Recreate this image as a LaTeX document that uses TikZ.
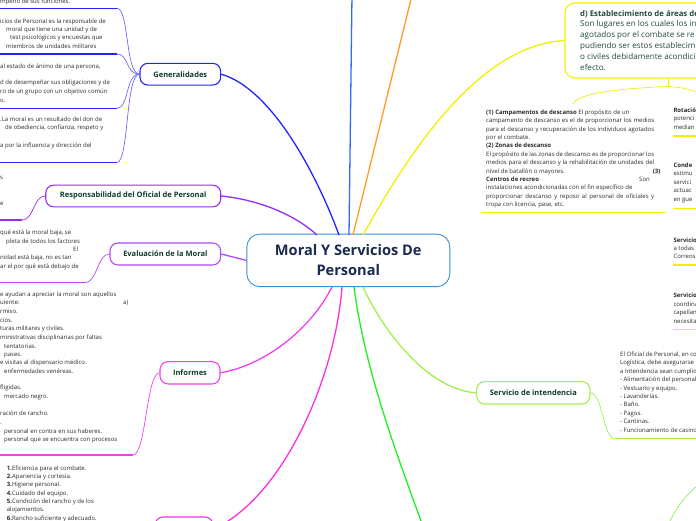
\documentclass[tikz,border=0pt]{standalone}
\usepackage{fontspec}
\setmainfont{Open Sans}
\definecolor{txc}{HTML}{2A2A2A}
\definecolor{lblc}{HTML}{0E3B2A}
\definecolor{dtc}{HTML}{214A37}
\definecolor{navy}{HTML}{1A2A50}
\definecolor{cen}{HTML}{3A8FD0}
\definecolor{cgen}{HTML}{2323FF}
\definecolor{cgenl}{HTML}{6A6AFF}
\definecolor{cresp}{HTML}{9A2CF0}
\definecolor{ceval}{HTML}{B347F8}
\definecolor{cinf}{HTML}{F040F0}
\definecolor{cbot}{HTML}{FF2EDF}
\definecolor{cint}{HTML}{A2F050}
\definecolor{cgreen}{HTML}{22EE22}
\definecolor{cyel}{HTML}{F2F000}
\definecolor{corange}{HTML}{FF9A22}
\definecolor{clblue}{HTML}{2F6BFF}
\definecolor{clg}{HTML}{88F060}
\newcounter{tn}
\newcommand\mytx[3]{\stepcounter{tn}\node[tx] (tx\arabic{tn}) at (#1,#2) {#3};}
\newcommand\myjx[3]{\stepcounter{tn}\node[tx] (tx\arabic{tn}) at (#1,#2) {\makebox[168pt][s]{#3}};}
\newcommand\mydtx[3]{\stepcounter{tn}\node[dtx] (tx\arabic{tn}) at (#1,#2) {#3};}
\tikzset{
  tx/.style={font=\fontsize{6}{6.5}\selectfont, text=txc, anchor=west, inner sep=0pt, text height=4.3pt, text depth=1.2pt},
  dtx/.style={font=\fontsize{8.1}{9}\selectfont, text=dtc, anchor=west, inner sep=0pt, text height=5.9pt, text depth=1.7pt},
  topic/.style={draw, fill=white, line width=1.1pt, rounded corners=8pt, font=\bfseries\fontsize{7.5}{9}\selectfont, text=lblc, inner sep=0pt},
  mainline/.style={line width=1.3pt},
  ul/.style={line width=1.5pt},
  sub/.style={line width=0.7pt},
}
\begin{document}
\begin{tikzpicture}[x=1pt,y=-1pt]
\useasboundingbox (0,0) rectangle (696,520);
\clip (0,0) rectangle (696,520);

% ---------- nodes ----------
\node[draw=cen, fill=white, line width=0.9pt, rounded corners=13pt, minimum width=203pt, minimum height=52.5pt, align=center, text=navy, font=\bfseries\fontsize{14.6}{20}\selectfont, inner sep=0pt] (c) at (348.3,260.4) {Moral Y Servicios De\\Personal};
\node[topic, draw=cgen, minimum width=80.7pt, minimum height=21.7pt] (gen) at (180.3,74.2) {Generalidades};
\node[topic, draw=cresp, minimum width=175pt, minimum height=21.7pt] (resp) at (133.2,196) {Responsabilidad del Oficial de Personal};
\node[topic, draw=ceval, minimum width=110.7pt, minimum height=22pt] (eval) at (165.3,254) {Evaluación de la Moral};
\node[topic, draw=cinf, minimum width=60pt, minimum height=22.3pt] (inf) at (190,372.8) {Informes};
\node[topic, draw=cint, minimum width=113.3pt, minimum height=22.3pt] (int) at (533.3,392.8) {Servicio de intendencia};
\node[topic, draw=cbot, minimum width=58pt, minimum height=24pt] (bot) at (184,529) {};
\node[draw=cyel, line width=1.1pt, rounded corners=10pt, minimum width=206pt, minimum height=75pt, inner sep=0pt] (dbox) at (668,40.5) {};

% ---------- main branches ----------
\coordinate (cgT) at (339,235); \coordinate (crT) at (317,235);
\coordinate (cbT) at (349,235); \coordinate (coT) at (353,235); \coordinate (cyT) at (363,235);
\coordinate (cmB) at (332,287); \coordinate (cpB) at (342,287); \coordinate (cgB) at (354,287); \coordinate (ciB) at (363,287);
\coordinate (topB) at (352,-5); \coordinate (topO) at (412,-5); \coordinate (botG) at (428,540);

\draw[mainline, cgen] (gen.east) .. controls (270,88) and (315,170) .. (cgT);
\draw[mainline, cresp] (resp.east) .. controls (260,200) and (295,215) .. (crT);
\draw[mainline, ceval] (eval.east) -- (c.west);
\draw[mainline, cinf] (inf.east) .. controls (265,365) and (310,330) .. (cmB);
\draw[mainline, cbot] (cpB) .. controls (335,380) and (282,498) .. (bot.east);
\draw[mainline, cgreen] (cgB) .. controls (365,370) and (395,450) .. (botG);
\draw[mainline, cint] (ciB) .. controls (385,335) and (430,390) .. (int.west);
\draw[mainline, clblue] (cbT) -- (topB);
\draw[mainline, corange] (coT) -- (topO);
\draw[mainline, cyel] (cyT) .. controls (410,150) and (480,45) .. (dbox.west);

% ---------- Generalidades children ----------
\foreach \yy/\nm in {8.3/ga,54/gb,108.3/gc,162.3/gd}{
  \coordinate (\nm) at (117,\yy);
  \draw[ul, cgen] (-2,\yy) -- (\nm);
  \draw[sub, cgenl] (\nm) .. controls +(12,0) and +(-14,0) .. (gen.west);
}
\mytx{0}{2}{mpeño de sus funciones.}
\mytx{0}{22.3}{icios de Personal es la responsable de}
\mytx{6}{30}{moral que tiene una unidad y de}
\mytx{10}{38.3}{test psicológicos y encuestas que}
\mytx{6}{46.7}{miembros de unidades militares}
\mytx{0}{66.7}{al estado de ánimo de una persona,}
\mytx{0}{83.3}{d de desempeñar sus obligaciones y de}
\mytx{0}{91.7}{ro de un grupo con un objetivo común}
\mytx{0}{100.7}{o.}
\mytx{0}{120}{.La moral es un resultado del don de}
\mytx{5}{128.3}{de obediencia, confianza, respeto y}
\mytx{0}{145.7}{a por la influencia y dirección del}

% ---------- Responsabilidad child ----------
\coordinate (ra) at (22,220);
\draw[ul, cresp] (-2,220) -- (ra);
\draw[sub, cresp] (ra) .. controls +(12,0) and +(-12,0) .. (resp.west);
\mytx{0}{178.3}{s}
\mytx{0}{204.3}{e}

% ---------- Evaluacion child ----------
\coordinate (ea) at (85,282.7);
\draw[ul, ceval] (-2,282.7) -- (ea);
\draw[sub, ceval] (ea) .. controls +(12,0) and +(-12,0) .. (eval.west);
\mytx{0}{232.7}{qué está la moral baja, se}
\mytx{6}{241.7}{pleta de todos los factores}
\mytx{73}{249.7}{El}
\mytx{0}{258.3}{nidad está baja, no es tan}
\mytx{0}{267.3}{ar el por qué está debajo de}

% ---------- Informes child ----------
\coordinate (ia) at (133,455);
\draw[ul, cinf] (-2,455) -- (ia);
\draw[sub, cinf] (ia) .. controls +(13,0) and +(-13,0) .. (inf.west);
\mytx{0}{295}{e ayudan a apreciar la moral son aquellos}
\mytx{0}{303.3}{uiente:}
\mytx{123}{303.3}{a)}
\mytx{0}{312.3}{rmiso.}
\mytx{0}{320.7}{cios.}
\mytx{0}{329.3}{turas militares y civiles.}
\mytx{0}{337.7}{ministrativas disciplinarias por faltas}
\mytx{4}{346.7}{tentatorias.}
\mytx{4}{355}{pases.}
\mytx{0}{363.3}{e visitas al dispensario médico.}
\mytx{4}{371.7}{enfermedades venéreas.}
\mytx{0}{388.3}{fligidas.}
\mytx{4}{396.7}{mercado negro.}
\mytx{0}{414.3}{ración de rancho.}
\mytx{0}{422.7}{.}
\mytx{4}{431.7}{personal en contra en sus haberes.}
\mytx{4}{440}{personal que se encuentra con procesos}

% ---------- bottom block ----------
\mytx{6.7}{469}{\textbf{1.}Eficiencia para el combate.}
\mytx{6.7}{477.2}{\textbf{2.}Apariencia y cortesía.}
\mytx{6.7}{485.4}{\textbf{3.}Higiene personal.}
\mytx{6.7}{493.8}{\textbf{4.}Cuidado del equipo.}
\mytx{6.7}{502.1}{\textbf{5.}Condición del rancho y de los}
\mytx{6.7}{510.3}{alojamientos.}
\mytx{6.7}{518.5}{\textbf{6.}Rancho suficiente y adecuado.}

% ---------- d) box ----------
\mydtx{580}{14}{\fontsize{7.8}{9}\selectfont\textbf{d) Establecimiento de áreas de}}
\mydtx{580}{24.3}{Son lugares en los cuales los in}
\mydtx{580}{35.3}{agotados por el combate se re}
\mydtx{580}{46.3}{pudiendo ser estos establecim}
\mydtx{580}{57.3}{o civiles debidamente acondici}
\mydtx{580}{68.3}{efecto.}

\coordinate (dj) at (668,86.5);
\coordinate (b1) at (573.5,104);
\coordinate (dr) at (705,95);
\draw[sub, cyel] (dbox.south) -- (dj);
\draw[sub, cyel] (dj) .. controls (630,88) and (577,92) .. (b1);
\draw[sub, cyel] (dj) .. controls (685,88) .. (dr);

% block (1)
\mytx{486}{112.7}{\textbf{(1) Campamentos de descanso} El propósito de un}
\myjx{486}{121.1}{campamento de descanso es el de proporcionar los medios}
\myjx{486}{129.5}{para el descanso y recuperación de los individuos agotados}
\mytx{486}{137.9}{por el combate.}
\mytx{486}{146.3}{\textbf{(2) Zonas de descanso}}
\myjx{486}{154.7}{El propósito de las zonas de descanso es de proporcionar los}
\myjx{486}{163.1}{medios para el descanso y la rehabilitación de unidades del}
\mytx{486}{171.5}{nivel de batallón o mayores.}
\mytx{652.7}{171.5}{\textbf{(3)}}
\mytx{486}{179.9}{\textbf{Centros de recreo}}
\mytx{639}{179.9}{Son}
\mytx{486}{188.3}{instalaciones acondicionadas con el fin específico de}
\myjx{486}{196.7}{proporcionar descanso y reposo al personal de oficiales y}
\mytx{486}{205.1}{tropa con licencia, pase, etc.}
\draw[ul, cyel] (482,212.7) -- (666,212.7);

% right narrow items
\mytx{673.3}{111}{\textbf{Rotación}}
\mytx{673.3}{119.4}{potenci}
\mytx{673.3}{127.8}{median}
\draw[ul, cyel] (672.5,136) -- (700,136);
\mytx{673.3}{166}{\textbf{Conde}}
\mytx{673.3}{174.4}{estimu}
\mytx{673.3}{182.8}{servici}
\mytx{673.3}{191.2}{actuac}
\mytx{673.3}{199.6}{en gue}
\draw[ul, cyel] (672.5,208.5) -- (700,208.5);
\mytx{673.3}{240.7}{\textbf{Servicio}}
\mytx{673.3}{248.8}{a todas}
\mytx{673.3}{256.9}{Correos}
\draw[ul, cyel] (672.5,265) -- (700,265);
\mytx{673.3}{296}{\textbf{Servicio}}
\mytx{673.3}{304.5}{coordina}
\mytx{673.3}{313}{capellan}
\mytx{673.3}{321.5}{necesita}
\draw[ul, cyel] (672.5,329.5) -- (700,329.5);

% ---------- intendencia child ----------
\coordinate (na) at (615,438.7);
\draw[ul, cint] (na) -- (700,438.7);
\draw[sub, cint] (na) .. controls +(-12,0) and +(12,0) .. (int.east);
\mytx{620}{355}{El Oficial de Personal, en co}
\mytx{620}{363.4}{Logística, debe asegurarse}
\mytx{620}{371.8}{a Intendencia sean cumplid}
\mytx{620}{380.2}{- Alimentación del personal}
\mytx{620}{388.6}{- Vestuario y equipo.}
\mytx{620}{397}{- Lavanderías.}
\mytx{620}{405.4}{- Baño.}
\mytx{620}{413.8}{- Pagos.}
\mytx{620}{422.2}{- Cantinas.}
\mytx{620}{430.6}{- Funcionamiento de casino}

% light green arc bottom right
\coordinate (lg1) at (668,525); \coordinate (lg2) at (702,482);
\draw[sub, clg] (lg1) .. controls (676,508) and (686,494) .. (lg2);
\end{tikzpicture}
\end{document}
